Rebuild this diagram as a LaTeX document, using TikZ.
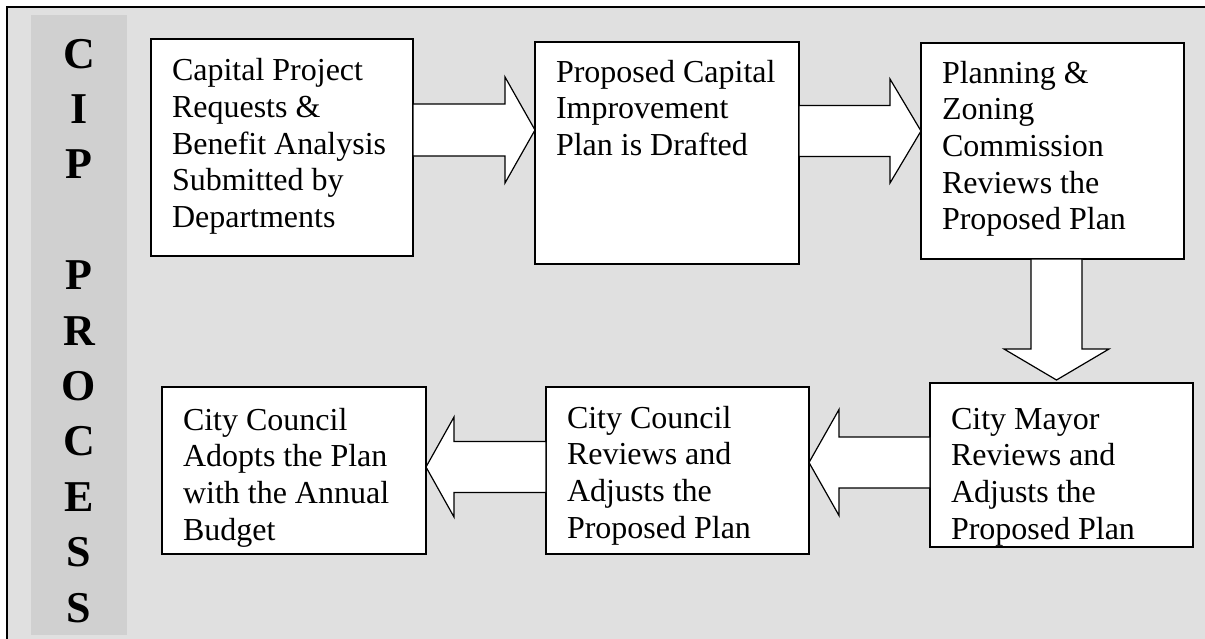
\documentclass[tikz,border=0pt]{standalone}
\usepackage{fontspec}
\setmainfont{Liberation Serif}
\usetikzlibrary{calc}
\definecolor{bgc}{HTML}{E0E0E0}
\definecolor{colc}{HTML}{D0D0D0}
\newcommand\boxtext[4]{\parbox[t][#2pt][t]{#1pt}{\raggedright\leftskip=21pt\relax\vspace*{\dimexpr#3pt-25.69pt\relax}\strut #4}}
\tikzset{
  procbox/.style={draw=black, line width=1.3pt, fill=white, inner sep=0pt, outer sep=0pt,
    anchor=north west, font=\fontsize{32}{36.7}\selectfont},
  blockarr/.style={draw=black, line width=1.2pt, fill=white, line join=miter},
  frame/.style={draw=black, line width=2pt, fill=bgc}
}
\begin{document}
\begin{tikzpicture}[x=1pt,y=-1pt]
\useasboundingbox (0,0) rectangle (1205,638);
\path[frame] (7,7) rectangle (1225,655);
\node[fill=colc, inner sep=0pt, outer sep=0pt, anchor=north west,
  font=\fontsize{44}{55.4}\selectfont\bfseries] (col) at (31,15)
  {\parbox[t][620pt][t]{96pt}{\centering\vspace*{\dimexpr53pt-38.78pt\relax}\strut C\\I\\P\\\strut\\P\\R\\O\\C\\E\\S\\S}};
% boxes
\node[procbox] (b1) at (151,39) {\boxtext{262}{217}{41.7}{Capital Project\\Requests \&\\Benefit Analysis\\Submitted by\\Departments}};
\node[procbox] (b2) at (535,42) {\boxtext{264}{222}{40}{Proposed Capital\\Improvement\\Plan is Drafted}};
\node[procbox] (b3) at (921,43) {\boxtext{263}{216}{40}{Planning \&\\Zoning\\Commission\\Reviews the\\Proposed Plan}};
\node[procbox] (b4) at (930,383) {\boxtext{263}{164}{46}{City Mayor\\Reviews and\\Adjusts the\\Proposed Plan}};
\node[procbox] (b5) at (546,387) {\boxtext{263}{167}{41}{City Council\\Reviews and\\Adjusts the\\Proposed Plan}};
\node[procbox] (b6) at (162,387) {\boxtext{264}{167}{43}{City Council\\Adopts the Plan\\with the Annual\\Budget}};
% block arrows
\draw[blockarr] let \p1=(b1.east), \p2=(b2.west) in
  (\x1,-104pt) -- (\x2-30pt,-104pt) -- (\x2-30pt,-77pt) -- (\x2,-130pt) --
  (\x2-30pt,-183pt) -- (\x2-30pt,-156pt) -- (\x1,-156pt) -- cycle;
\draw[blockarr] let \p1=(b2.east), \p2=(b3.west) in
  (\x1,-105.5pt) -- (\x2-31pt,-105.5pt) -- (\x2-31pt,-79pt) -- (\x2,-131pt) --
  (\x2-31pt,-183pt) -- (\x2-31pt,-156.5pt) -- (\x1,-156.5pt) -- cycle;
\draw[blockarr] let \p1=(b3.south), \p2=(b4.north) in
  (1031pt,\y1) -- (1031pt,\y2+34pt) -- (1004pt,\y2+34pt) -- (1056.5pt,\y2+3pt) --
  (1109pt,\y2+34pt) -- (1082pt,\y2+34pt) -- (1082pt,\y1) -- cycle;
\draw[blockarr] let \p1=(b4.west), \p2=(b5.east) in
  (\x1,-437pt) -- (\x2+30pt,-437pt) -- (\x2+30pt,-409.5pt) -- (\x2,-462.5pt) --
  (\x2+30pt,-515.5pt) -- (\x2+30pt,-488pt) -- (\x1,-488pt) -- cycle;
\draw[blockarr] let \p1=(b5.west), \p2=(b6.east) in
  (\x1,-441.5pt) -- (\x2+28pt,-441.5pt) -- (\x2+28pt,-417pt) -- (\x2,-467pt) --
  (\x2+28pt,-517pt) -- (\x2+28pt,-492.5pt) -- (\x1,-492.5pt) -- cycle;
\end{tikzpicture}
\end{document}
